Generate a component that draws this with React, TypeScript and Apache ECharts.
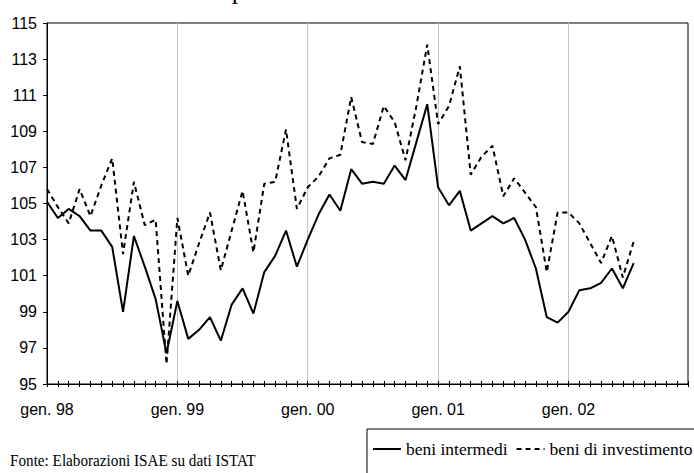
import React, { useEffect, useRef } from "react";
import * as echarts from "echarts";

const months = ["gen", "feb", "mar", "apr", "mag", "giu", "lug", "ago", "set", "ott", "nov", "dic"];
const years = ["98", "99", "00", "01", "02"];
const categories = years.flatMap((y) => months.map((m) => `${m}. ${y}`));

const yTicks = [95, 97, 99, 101, 103, 105, 107, 109, 111, 113, 115];

const beniIntermedi = [
  105.1, 104.2, 104.7, 104.3, 103.5, 103.5, 102.6, 99.0, 103.2, 101.5, 99.7, 96.7,
  99.6, 97.5, 98.0, 98.7, 97.4, 99.4, 100.3, 98.9, 101.2, 102.1, 103.5, 101.5,
  103.0, 104.4, 105.5, 104.6, 106.9, 106.1, 106.2, 106.1, 107.1, 106.3, 108.4, 110.5,
  105.9, 104.9, 105.7, 103.5, 103.9, 104.3, 103.9, 104.2, 103.0, 101.4, 98.7, 98.4,
  99.0, 100.2, 100.3, 100.6, 101.4, 100.3, 101.7,
];

const beniInvestimento = [
  105.8, 104.8, 103.9, 105.8, 104.3, 106.0, 107.5, 102.2, 106.2, 103.8, 104.1, 96.1,
  104.2, 101.0, 102.8, 104.5, 101.3, 103.5, 105.7, 102.3, 106.1, 106.2, 109.1, 104.7,
  105.9, 106.5, 107.5, 107.7, 110.9, 108.4, 108.3, 110.4, 109.5, 107.4, 110.4, 113.8,
  109.4, 110.4, 112.6, 106.6, 107.6, 108.2, 105.4, 106.4, 105.6, 104.8, 101.2, 104.5,
  104.5, 103.9, 102.8, 101.7, 103.2, 100.9, 102.9,
];

const titleText = "per destinazione economica";
const sourceText = "Fonte: Elaborazioni ISAE su dati ISTAT";
const seriesNames = ["beni intermedi", "beni di investimento"];

const SANS = "'Liberation Sans', Arial, sans-serif";
const SERIF = "'Liberation Serif', 'Times New Roman', serif";

export default function App() {
  const ref = useRef<HTMLDivElement>(null);

  useEffect(() => {
    if (!ref.current) return;
    const chart = echarts.init(ref.current, null, { renderer: "svg" });
    chart.setOption({
      animation: false,
      backgroundColor: "#ffffff",
      grid: {
        left: 47,
        top: 23,
        width: 641,
        height: 361,
        show: true,
        borderColor: "#000000",
        borderWidth: 1,
        backgroundColor: "transparent",
      },
      legend: {
        left: 367,
        top: 429,
        width: 420,
        orient: "horizontal",
        padding: [11, 40, 30, 5],
        itemWidth: 28,
        itemHeight: 14,
        itemGap: 8,
        borderColor: "#000000",
        borderWidth: 1,
        backgroundColor: "#ffffff",
        data: seriesNames,
        itemStyle: { opacity: 0 },
        textStyle: { fontFamily: SERIF, fontSize: 17.5, color: "#000000" },
      },
      graphic: [
        {
          type: "text",
          x: 376,
          y: 3,
          style: {
            text: titleText,
            fontFamily: SERIF,
            fontSize: 26,
            fill: "#000000",
            align: "center",
            verticalAlign: "bottom",
          },
        },
        {
          type: "text",
          x: 10,
          y: 460,
          scaleX: 0.95,
          style: {
            text: sourceText,
            fontFamily: SERIF,
            fontSize: 16,
            fill: "#000000",
            align: "left",
            verticalAlign: "middle",
          },
        },
      ],
      xAxis: [
        {
          type: "category",
          data: categories,
          boundaryGap: false,
          position: "bottom",
          axisLine: { show: true, lineStyle: { color: "#000000", width: 1 } },
          axisTick: { show: true, interval: 0, length: 3, lineStyle: { color: "#000000" } },
          axisLabel: {
            interval: 11,
            margin: 17,
            fontFamily: SANS,
            fontSize: 16,
            color: "#000000",
          },
          splitLine: {
            show: true,
            interval: (index: number) => index % 12 === 0 && index > 0,
            lineStyle: { color: "#c4c4c4", width: 1 },
          },
        },
        {
          type: "category",
          data: categories,
          boundaryGap: false,
          position: "bottom",
          axisLine: { show: false },
          axisTick: { show: true, inside: true, interval: 0, length: 3, lineStyle: { color: "#000000" } },
          axisLabel: { show: false },
          splitLine: { show: false },
        },
      ],
      yAxis: {
        type: "value",
        min: 95,
        max: 115,
        axisLine: { show: true, lineStyle: { color: "#000000", width: 1 } },
        axisTick: { show: true, length: 4, customValues: yTicks, lineStyle: { color: "#000000" } },
        axisLabel: {
          customValues: yTicks,
          margin: 10,
          fontFamily: SANS,
          fontSize: 16,
          color: "#000000",
        },
        splitLine: { show: false },
      },
      series: [
        {
          name: seriesNames[0],
          type: "line",
          data: beniIntermedi,
          symbol: "none",
          lineStyle: { color: "#000000", width: 2, type: "solid" },
          itemStyle: { color: "#000000" },
        },
        {
          name: seriesNames[1],
          type: "line",
          data: beniInvestimento,
          symbol: "none",
          lineStyle: { color: "#000000", width: 2, type: [5, 4] },
          itemStyle: { color: "#000000" },
        },
      ],
    });
    return () => chart.dispose();
  }, []);

  return (
    <div
      ref={ref}
      style={{ position: "fixed", left: 0, top: 0, width: 694, height: 473, background: "#fff" }}
    />
  );
}
